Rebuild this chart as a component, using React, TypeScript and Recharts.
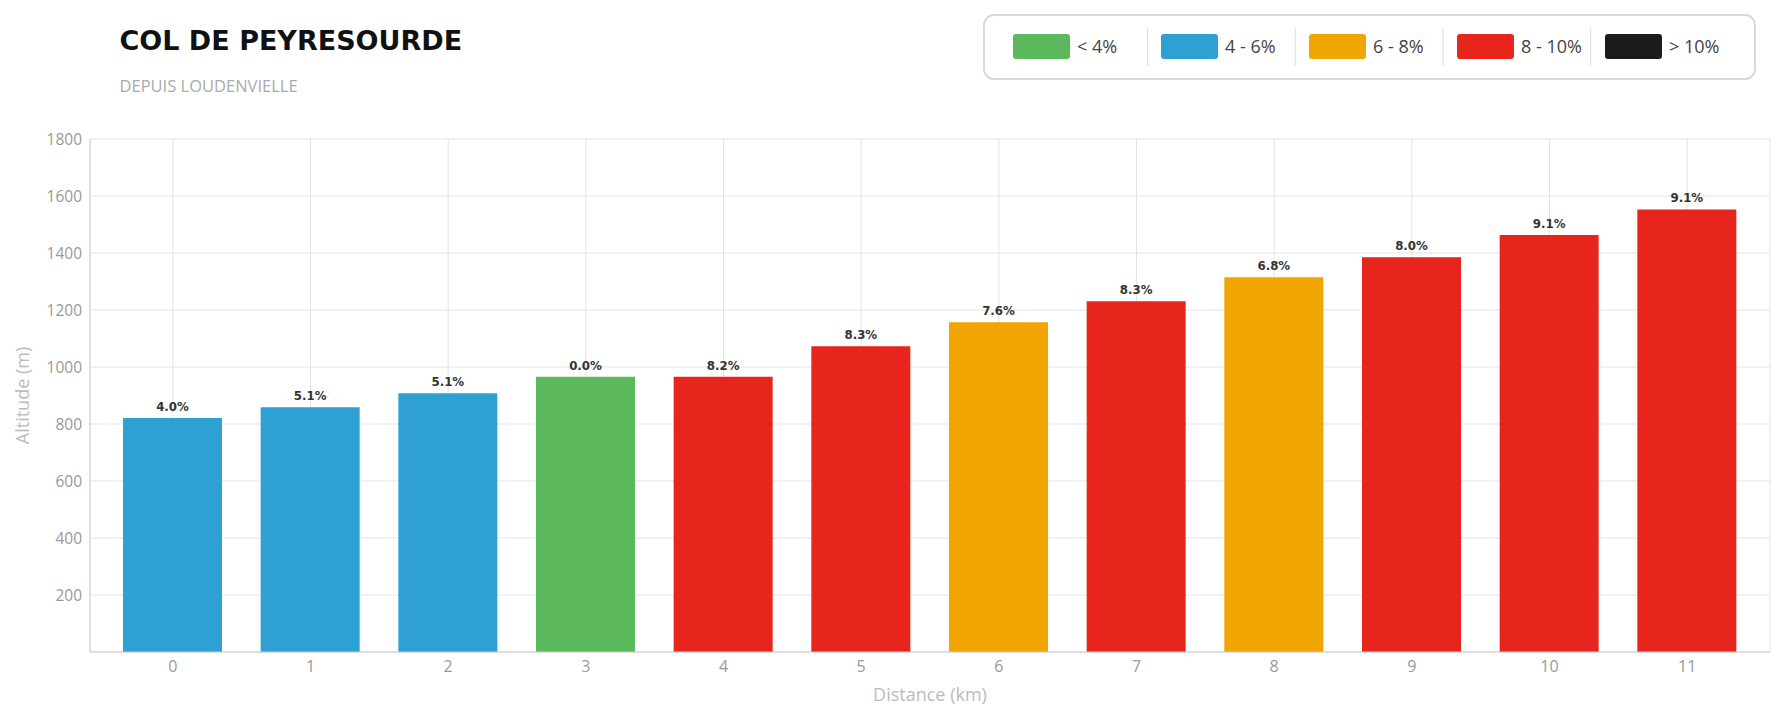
import {
  Bar,
  BarChart,
  CartesianGrid,
  Cell,
  Label,
  LabelList,
  XAxis,
  YAxis,
} from "recharts";

// Col de Peyresourde from Loudenvielle: altitude at each km, with the
// gradient of the following km printed on top of its bar.

const KM = ["0", "1", "2", "3", "4", "5", "6", "7", "8", "9", "10", "11"];
const ALTITUDE = [821, 859, 908, 966, 966, 1073, 1157, 1231, 1315, 1385, 1463, 1553];
const GRADE = [4.0, 5.1, 5.1, 0.0, 8.2, 8.3, 7.6, 8.3, 6.8, 8.0, 9.1, 9.1];
const Y_TICKS = [200, 400, 600, 800, 1000, 1200, 1400, 1600, 1800];

const CLASS_LABELS = ["< 4%", "4 - 6%", "6 - 8%", "8 - 10%", "> 10%"];
const CLASS_LIMITS = [4, 6, 8, 10];
const CLASS_COLORS = ["#5cb85c", "#2fa0d3", "#f0a500", "#e8251d", "#1b1b1b"];

const W = 1785;
const H = 720;
const SANS = "'Open Sans', 'Noto Sans', sans-serif";

function colorFor(grade: number): string {
  return CLASS_COLORS[CLASS_LIMITS.filter((l) => grade >= l).length];
}

function fmtGrade(v: unknown): string {
  return `${Number(v).toFixed(1)}%`;
}

function YTitle(props: any) {
  const vb = props.viewBox ?? { x: 0, y: 0, width: 0, height: 0 };
  const cx = 22;
  const cy = vb.y + vb.height / 2;
  return (
    <text
      x={cx}
      y={cy}
      transform={`rotate(-90, ${cx}, ${cy})`}
      textAnchor="middle"
      dominantBaseline="central"
      fill="#bbb"
      fontSize={18}
      fontFamily={SANS}
    >
      Altitude (m)
    </text>
  );
}

function Header() {
  return (
    <svg
      width={W}
      height={H}
      style={{ position: "absolute", left: 0, top: 0, pointerEvents: "none" }}
    >
      <text x={119.5} y={50} fill="#111" fontSize={27} fontWeight="bold" fontFamily="'DejaVu Sans', sans-serif">
        COL DE PEYRESOURDE
      </text>
      <text x={119.5} y={92} fill="#aaa" fontSize={16.5} fontFamily={SANS}>
        DEPUIS LOUDENVIELLE
      </text>

      <rect x={984} y={15} width={771} height={64} rx={10} fill="#fff" stroke="#d9d9d9" strokeWidth={2} />
      {CLASS_LABELS.map((label, i) => (
        <g key={label}>
          <rect x={1013 + i * 148} y={34} width={57} height={25} rx={3} fill={CLASS_COLORS[i]} />
          <text x={1077 + i * 148} y={52.5} fill="#444" fontSize={18} fontFamily={SANS}>
            {label}
          </text>
          {i < CLASS_LABELS.length - 1 && (
            <line x1={1147.5 + i * 147.7} x2={1147.5 + i * 147.7} y1={28} y2={66} stroke="#ddd" />
          )}
        </g>
      ))}
    </svg>
  );
}

export default function App() {
  const data = KM.map((km, i) => ({ km, alt: ALTITUDE[i], grade: GRADE[i] }));

  return (
    <div style={{ position: "relative", width: W, height: H, background: "#fff" }}>
      <style>{"body{margin:0}"}</style>
      <BarChart
        width={W}
        height={H}
        data={data}
        margin={{ top: 139, right: 15, bottom: 0, left: 0 }}
        style={{ fontFamily: SANS }}
      >
        <CartesianGrid stroke="#e3e3e3" />
        <XAxis
          dataKey="km"
          height={68}
          padding={{ left: 14, right: 14 }}
          interval={0}
          tickLine={false}
          tickMargin={3}
          axisLine={{ stroke: "#ccc" }}
          tick={{ fill: "#999", fontSize: 16, fontFamily: SANS }}
        >
          <Label
            value="Distance (km)"
            position="insideBottom"
            offset={19}
            fill="#bbb"
            fontSize={18}
            fontFamily={SANS}
          />
        </XAxis>
        <YAxis
          width={90}
          domain={[0, 1800]}
          ticks={Y_TICKS}
          tickLine={false}
          axisLine={{ stroke: "#ccc" }}
          tick={{ fill: "#999", fontSize: 15.5, fontFamily: SANS }}
        >
          <Label content={<YTitle />} />
        </YAxis>
        <YAxis
          yAxisId="frame"
          orientation="right"
          width={0}
          domain={[0, 1800]}
          tick={false}
          tickLine={false}
          axisLine={{ stroke: "#ccc" }}
        />
        <Bar dataKey="alt" barSize={99} isAnimationActive={false}>
          {data.map((d) => (
            <Cell key={d.km} fill={colorFor(d.grade)} />
          ))}
          <LabelList
            dataKey="grade"
            position="top"
            offset={7}
            formatter={fmtGrade}
            fill="#333"
            fontSize={11.8}
            fontWeight="bold"
            fontFamily="'DejaVu Sans', sans-serif"
          />
        </Bar>
      </BarChart>
      <Header />
    </div>
  );
}
